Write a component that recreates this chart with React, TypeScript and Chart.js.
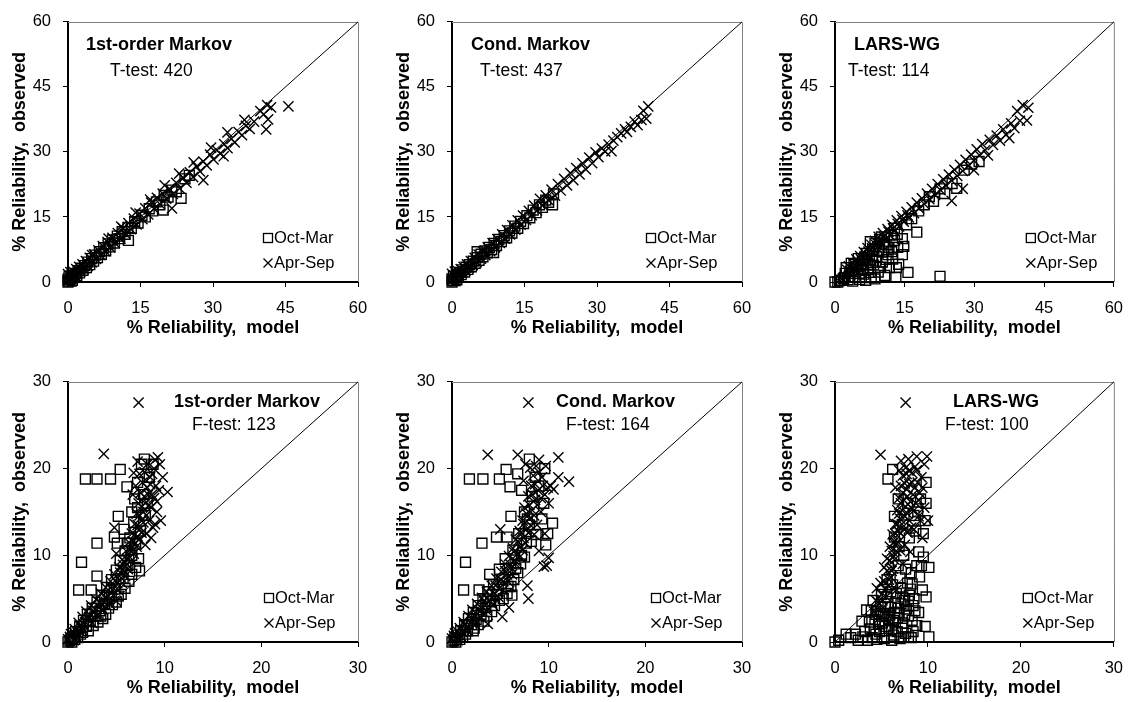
import React, { useEffect, useRef } from "react";
import { Chart, registerables } from "chart.js";

Chart.register(...registerables);

const FONT = "'Liberation Sans', Arial, sans-serif";

// ---------- tick / axis settings ----------
const topTicks = [0, 15, 30, 45, 60];
const bottomTicks = [0, 10, 20, 30];
const xTitle = "% Reliability,  model";
const yTitle = "% Reliability,  observed";
const seriesNames = ["Oct-Mar", "Apr-Sep"];
const panelTitles = ["1st-order Markov", "Cond. Markov", "LARS-WG", "1st-order Markov", "Cond. Markov", "LARS-WG"];
const testLabels = ["T-test: 420", "T-test: 437", "T-test: 114", "F-test: 123", "F-test: 164", "F-test: 100"];

// ---------- data: [model, observed] ----------
const tMarkovOctMar = [
  [0,0],[0,0.6],[0.3,0.2],[0.2,1.2],[0.6,0.8],[0.9,0.4],[0.8,1.6],[1.2,1.1],[1.5,2],[1.8,1.5],[2.1,2.6],[2.4,2.1],[2.7,3.2],[3.1,2.7],[3.4,3.8],[3.8,3.3],[4.1,4.6],[4.5,4],[4.9,5.4],[5.3,4.8],[5.7,6.2],[6.1,5.6],[6.5,7],[6.9,6.4],[7.4,7.9],[7.8,7.2],[8.3,8.8],[8.7,8.1],[9.2,9.7],[9.6,9],[10.2,10.6],[10.7,10],[11.2,11.6],[11.8,11],[12.5,9.6],[12.4,12.6],[13.1,12.4],[13.8,13.9],[14.5,13.6],[15.3,15.4],[16,15],[16.8,16.9],[17.5,16.4],[18.3,18.5],[19,17.8],[19.7,16.6],[19.9,20],[20.7,19.6],[21.5,21.2],[22.4,20.8],[23.4,19.3],[24.2,23.8],[25.1,24.6]
];
const tMarkovAprSep = [
  [0,0.3],[0,1.8],[0.4,1.4],[0.7,0.1],[0.5,2.3],[1,0.7],[1.1,2.4],[1.4,1.6],[1.7,3],[2,2],[2.3,3.5],[2.6,2.5],[3,4.1],[3.3,3],[3.7,4.8],[4.1,3.7],[4.5,5.6],[4.9,4.5],[5,6.2],[5.4,6.4],[5.8,5.3],[6.3,7.3],[6.7,6.2],[7.2,8.3],[7.7,7.1],[8.2,9.2],[8.4,10],[8.7,8],[9.2,10.2],[9.7,9],[10.3,11.3],[10.8,10],[11,12.8],[11.4,12.4],[11.9,11.1],[12.5,13.6],[13,12.2],[13.6,14.6],[14,16],[14.2,13.3],[14.8,15.8],[15.4,14.5],[16,17],[16.6,15.6],[17,19],[17.2,18.3],[17.8,16.9],[18.4,19.4],[19,18],[19.6,20.4],[20,22.3],[20.3,19.2],[21,21.5],[21.5,17],[21.7,20.3],[22.4,22.9],[23,25],[23.1,21.6],[23.8,24],[24.5,22.9],[25.2,25.3],[25.9,24.2],[26,27.6],[26.6,26.6],[27.3,25.5],[28,23.5],[28,27.8],[28.7,26.9],[29.4,29.4],[29.6,31],[30.1,28.3],[30.8,30.4],[31.5,29.6],[32.2,29],[32.3,31.8],[33,30.9],[33,34.5],[33.8,33],[34.5,32.2],[35.3,34.6],[36,33.9],[36.5,37.4],[36.8,36],[37.6,35.3],[38.5,37],[39.8,39.4],[40.5,38.7],[41.2,40.8],[41.4,37.5],[41,35.2],[42,40.3],[45.6,40.5]
];
const tCondOctMar = [
  [0,0],[0,0.7],[0.3,0.3],[0.3,1.3],[0.7,0.9],[1,0.5],[0.9,1.8],[1.3,1.3],[1.6,2.2],[1.9,1.7],[2.2,2.8],[2.6,2.3],[2.9,3.4],[3.3,2.9],[3.6,4],[4,3.5],[4.4,4.8],[4.8,4.3],[5.2,7],[5.2,5.6],[5.6,5],[6,6.4],[6.4,5.8],[6.8,7.2],[7.3,6.7],[7.7,8],[8.2,7.5],[8.6,6.8],[8.7,8.9],[9.2,8.4],[9.7,9.8],[10.2,9.3],[10.8,10.7],[11.3,10.2],[11.9,11.8],[12.4,11.3],[13,12.9],[13.6,12.4],[14.2,14],[14.8,13.5],[15.5,15.3],[16.1,14.8],[16.8,16.6],[17.4,16],[18.1,17.8],[18.7,17.2],[19.4,18.9],[20,18.4],[20.8,17.8],[21,20.3]
];
const tCondAprSep = [
  [0,0.4],[0,1.9],[0.4,1.5],[0.7,0.2],[0.6,2.4],[1.1,0.9],[1.2,2.5],[1.5,1.7],[1.8,3],[2.1,2.2],[2.4,3.5],[2.8,2.7],[3.1,4.1],[3.5,3.3],[3.9,4.8],[4.3,3.9],[4.7,5.6],[5.1,4.6],[5.5,6.3],[6,5.4],[6.4,7.1],[6.9,6.2],[7.4,8],[7.9,7.1],[8.4,9],[8.9,8],[9.4,9.9],[9.9,9],[10.4,11],[10.9,10],[11.4,12],[12,11],[12.5,13.1],[13.1,12.1],[13.6,14.2],[14.2,13.2],[14.7,15.3],[15.3,14.3],[15.9,16.4],[16.5,15.4],[17,17.6],[17.6,16.5],[18.2,19.2],[18.8,17.7],[19.4,20],[20,18.8],[20.6,21.3],[21.3,19.9],[21.9,22.6],[22.5,21.1],[23.2,23.8],[23.8,22.3],[24.5,25.1],[25.1,23.5],[25.7,26.3],[26.4,24.8],[27,27.4],[27.7,26],[28.4,28.7],[29,27.4],[29.7,29.9],[30.3,28.8],[31,30.8],[31.7,30.1],[32.4,31.7],[33,30.2],[33.4,32.6],[34.2,33.4],[35,34.3],[35.8,35.2],[36.2,34.6],[37,35.8],[37.8,37],[38.4,36.2],[39.2,37.4],[39.6,39.5],[40.2,37.7],[40.6,40.5]
];
const tLarsOctMar = [
  [0,0],[0.6,0],[1,0.3],[1.4,0.4],[1.8,0.8],[2,1],[2.2,2],[2.4,3.3],[2.8,0.5],[3,1.2],[3.2,2],[3.5,4.3],[3.6,2.8],[3.8,0.2],[4.1,4.1],[4.3,1.2],[4.5,3.5],[4.8,2.8],[5,5.4],[5.2,2],[5.3,0.6],[5.6,3.7],[5.9,4.8],[6,3],[6.2,1.8],[6.4,5.6],[6.6,0.4],[6.8,6.6],[7,4],[7.1,2.9],[7.4,5],[7.6,9.3],[7.6,2.2],[7.8,1],[8,6],[8.1,7.5],[8.3,3.9],[8.6,8.9],[8.6,0.7],[8.8,4.8],[9,5.8],[9.3,2.3],[9.4,7.2],[9.6,9.8],[9.8,3.4],[10,10.4],[10.2,4.6],[10.4,9],[10.5,7.1],[10.7,1.5],[11,8.6],[11,5.2],[11.4,6.3],[11.6,8],[11.7,3.3],[12.1,10.8],[12.2,7],[12.4,5.3],[12.8,12.4],[12.8,9.6],[13.1,1.1],[13.2,3.3],[13.4,11],[13.7,4.1],[13.5,8],[14.5,6.3],[14.5,10],[14.8,8.2],[15.7,2.2],[15.4,13.2],[16.5,14.6],[17.6,11.5],[18,16.4],[19.2,17.8],[20.3,19.7],[21.2,18.6],[22.6,1.3],[22.6,21.5],[23.6,20.4],[25.2,22.7],[26.2,21.6],[27.8,25.8],[29.4,27.2],[31,27.8]
];
const tLarsAprSep = [
  [2.2,1.4],[2.6,2.8],[3,3.6],[3.2,2.6],[3.4,1.8],[3.8,4.4],[4,3.4],[4.2,2.6],[4.6,5.2],[4.8,4.2],[5,3.4],[5.4,6],[5.6,5.2],[5.8,4.4],[6.2,6.9],[6.4,6],[6.6,5.3],[7,7.8],[7.2,7],[7.4,6.1],[7.8,8.6],[8,7.8],[8.2,7],[8.6,9.5],[8.8,8.6],[9,7.9],[9.4,10.4],[9.6,9.6],[9.8,8.8],[10.3,11.3],[10.5,10.4],[10.8,9.8],[11.3,12.2],[11.5,11.6],[11.8,10.8],[12.3,13.2],[12.5,12.4],[12.8,11.8],[13.3,14.2],[13.5,13.4],[13.8,12.8],[14.3,15.2],[14.5,14.4],[14.8,13.9],[15.4,16.2],[15.6,15.4],[15.9,14.9],[16.5,17.2],[17,15.9],[17.6,18.3],[18.1,17],[18.7,19.3],[19.2,18],[19.8,20.4],[20.3,19.1],[20.9,21.5],[21.5,20.1],[22.1,22.6],[22.7,21.2],[23.3,23.7],[23.9,22.3],[24.5,24.8],[25.1,18.7],[25.1,23.4],[25.7,25.9],[26.3,24.5],[26.9,27],[27.5,21.5],[27.5,25.6],[28.1,28.2],[28.7,26.8],[29.3,29.4],[29.9,25.8],[29.9,28],[30.5,30.6],[31.1,29.2],[31.7,31.8],[32.3,30.4],[32.9,29.2],[33.3,32.8],[34,31.6],[34.8,33.8],[35.5,32.6],[36.2,35.2],[36.8,34],[37.5,33.2],[37.9,36.6],[38.6,35.5],[39.2,39.4],[39.8,37.2],[40.4,40.8],[41.3,37.3],[41.6,40.2]
];
const fMarkovOctMar = [
  [0,0],[0.4,0],[0.3,0.4],[0.2,0.2],[0.7,0.3],[0.6,0.7],[0.8,1.2],[1,0.5],[1.1,6],[1.3,0.9],[1.4,9.2],[1.2,1.8],[1.5,1.1],[1.6,2.5],[1.8,18.8],[1.9,1.8],[2,3.2],[2.1,1.3],[2.3,2.4],[2.4,6],[2.5,3.9],[2.6,1.9],[2.8,3],[3,18.8],[3,11.4],[3,7.6],[3,4.6],[3.1,2.3],[3.3,3.6],[3.4,3],[3.6,2.7],[3.5,5.4],[3.8,4.4],[3.9,3.2],[4,6.3],[4.2,3.9],[4.3,5.2],[4.4,18.8],[4.5,7.2],[4.6,4.3],[4.8,12.1],[4.8,6.1],[5,8.3],[5,4.6],[5.1,11.4],[5.2,14.5],[5.2,5.3],[5.4,19.9],[5.4,9.4],[5.5,5.5],[5.7,7.3],[5.8,13],[5.9,10.5],[5.9,6.2],[6.1,17.9],[6.2,8.8],[6.2,11.4],[6.3,7],[6.4,12],[6.6,10],[6.6,7.8],[6.6,15],[6.8,13.8],[6.9,16.5],[7,11.3],[7,8.6],[7.2,15.5],[7.2,18.4],[7.3,9.6],[7.4,8.2],[7.5,12.8],[7.6,20.5],[7.8,17],[7.9,21.1],[8,14.6],[8.2,16],[8.4,19],[8.8,20.5]
];
const fMarkovAprSep = [
  [0,0.3],[0.2,0.6],[0.3,0.9],[0.5,1.2],[0.6,0.2],[0.7,1.5],[0.9,0.6],[1,1],[1.1,2.2],[1.2,1.9],[1.4,1.6],[1.5,2.9],[1.6,1.2],[1.8,2.3],[1.9,3.5],[2,2.7],[2.2,2.9],[2.4,4.2],[2.5,2.2],[2.6,3.6],[2.7,3.4],[2.9,4.9],[3,3],[3.2,4],[3.3,4.6],[3.4,5.6],[3.6,3.8],[3.7,4.6],[3.7,21.7],[3.9,6.3],[3.9,5.2],[4.2,5.3],[4.3,4.4],[4.4,7],[4.5,6.4],[4.6,6],[4.7,5.4],[4.8,13.2],[4.8,7.8],[4.9,7.1],[5,10.2],[5,4.7],[5.1,6.8],[5.2,6],[5.3,8.6],[5.4,8],[5.5,7.4],[5.6,9.5],[5.6,6.8],[5.7,8.9],[5.8,8.2],[5.9,7.6],[6,10.5],[6.1,9],[6.1,9.6],[6.2,8.4],[6.3,11.5],[6.4,9.8],[6.4,10.6],[6.5,9.3],[6.6,12.5],[6.7,10.6],[6.7,11.6],[6.7,17],[6.8,19.5],[6.8,10.2],[6.9,13.6],[6.9,12.4],[7,11.4],[7,18],[7.1,14.8],[7.1,11],[7.2,20.8],[7.2,12.2],[7.2,13.5],[7.3,27.6],[7.3,16],[7.3,11.8],[7.4,13],[7.4,14.6],[7.4,19.4],[7.5,17.2],[7.6,14],[7.6,12.6],[7.6,15.6],[7.7,18.4],[7.8,15],[7.8,13.8],[7.9,19.6],[7.9,16.8],[8,16],[8,11.2],[8.1,12.5],[8.1,14.6],[8.2,20.5],[8.2,17.8],[8.3,17],[8.4,14],[8.4,15.8],[8.5,18.2],[8.5,19],[8.6,15.5],[8.6,12],[8.7,19.4],[8.7,17],[8.8,13.2],[8.9,16.6],[8.9,20],[9,21],[9,13.6],[9.1,18],[9.2,15],[9.2,16.2],[9.3,21.3],[9.4,17.5],[9.5,20.5],[9.6,14],[9.8,19],[10.3,17.3]
];
const fCondOctMar = [
  [0,0],[0.4,0],[0.2,0.2],[0.3,0.5],[0.8,0.3],[0.6,0.8],[0.9,1.3],[1.1,0.6],[1.2,6],[1.4,0.9],[1.4,9.2],[1.3,2],[1.6,1.3],[1.7,2.7],[1.8,18.8],[2,2],[2.2,1.3],[2.2,3.4],[2.3,1.6],[2.5,2.6],[2.7,2],[2.8,6],[2.7,4.2],[3,3.2],[3.1,11.4],[3.2,18.8],[3.2,5],[3.3,2.4],[3.5,4],[3.6,3],[3.7,5.8],[3.9,7.8],[4,4.7],[4.1,3.5],[4.3,6.6],[4.4,4.2],[4.6,12.1],[4.6,5.5],[4.9,8.4],[4.9,4.8],[4.9,18.8],[5.2,7.2],[5.3,5],[5.5,9.6],[5.6,19.9],[5.7,12.1],[5.7,5.6],[5.8,6.4],[6,17.9],[6.1,14.5],[6.1,6.4],[6.2,5.4],[6.3,10.6],[6.4,7.2],[6.6,8.5],[6.8,19.4],[6.8,8],[6.9,12.5],[7.1,9],[7.2,10],[7.2,17.5],[7.5,15],[7.5,9.8],[7.7,11.4],[7.8,14.2],[8,21.1],[8,13.5],[8.2,11.6],[8.3,16.8],[8.6,19],[8.7,12.4],[9,18],[9.3,14.2],[9.5,16],[9.7,11.2],[9.9,12.5],[10.4,13.7],[9.6,20]
];
const fCondAprSep = [
  [0,0.4],[0.2,0.7],[0.3,1],[0.5,1.3],[0.6,0.2],[0.8,1.6],[0.9,0.7],[1.1,1.1],[1.2,2.3],[1.3,2],[1.5,1.7],[1.6,1.3],[1.7,3],[2,2.3],[2,2.8],[2.1,3.7],[2.4,3],[2.4,2],[2.6,4.4],[2.7,3.7],[2.9,3.6],[3,2.8],[3.1,5.1],[3.3,4.7],[3.4,4.2],[3.6,5.8],[3.6,3.6],[3.7,2.1],[3.7,21.6],[3.9,4.8],[3.9,5.4],[4.1,6.5],[4.2,4.3],[4.4,5.5],[4.5,6.5],[4.6,7.3],[4.8,5.2],[4.9,6.2],[5,13],[5,7.2],[5.1,8.1],[5.2,2.9],[5.3,7],[5.3,6],[5.5,9],[5.5,8.2],[5.7,7.8],[5.8,7],[5.9,4],[5.9,9.9],[6,9],[6.1,8.6],[6.2,7.8],[6.3,10.8],[6.4,10.4],[6.5,9.4],[6.6,11.8],[6.6,9],[6.8,21.6],[6.8,10.2],[6.8,11.6],[7,12.8],[7,9.8],[7.1,11],[7.1,12.6],[7.3,14],[7.3,10.6],[7.4,12],[7.4,13.6],[7.4,18.6],[7.5,15.5],[7.6,20.5],[7.6,11.4],[7.7,13],[7.7,14.8],[7.8,6.5],[7.9,27.6],[7.9,5],[7.9,16.8],[7.9,12.6],[8,14.2],[8,15.8],[8.1,20.1],[8.2,18],[8.2,13.4],[8.3,15.2],[8.3,17],[8.4,19.2],[8.5,12.4],[8.5,14.6],[8.6,16.4],[8.6,18.2],[8.7,20.3],[8.8,13.5],[8.8,15.8],[8.9,17.5],[9,10.5],[9,21],[9,19.6],[9.2,15],[9.2,16.6],[9.3,19],[9.4,18],[9.5,8.7],[9.6,17],[9.6,12.5],[9.7,20.3],[9.8,8.8],[9.9,17.8],[10,9.7],[10,16],[10.2,18],[10.5,17.6],[11,19],[11,21.3],[12.1,18.5]
];
const fLarsOctMar = [
  [0,0],[0.4,0.2],[1.2,0.9],[1.7,0.5],[2.2,0.9],[2.5,0.2],[2.9,2.4],[3,0.6],[3.2,1.2],[3.4,3.7],[3.5,0.2],[3.7,2.3],[3.8,1.5],[3.9,3.6],[4,0.5],[4.1,4.8],[4.2,1.4],[4.3,2.6],[4.4,3.2],[4.4,0.9],[4.5,0.3],[4.6,3.5],[4.7,2.1],[4.8,1.2],[4.9,4.1],[5,5.5],[5,3],[5.1,2.2],[5.2,3.3],[5.3,0.4],[5.4,4],[5.4,1.8],[5.5,1.3],[5.6,7.2],[5.6,5.2],[5.7,18.8],[5.7,4.4],[5.8,1.6],[5.8,2.6],[5.9,3.1],[6,5.8],[6,4],[6.1,0.2],[6.1,1.5],[6.2,19.9],[6.2,6.6],[6.3,2.5],[6.3,0.8],[6.4,14.5],[6.4,12.1],[6.4,3.4],[6.5,4.5],[6.5,2.2],[6.6,5.6],[6.7,1.2],[6.7,2.8],[6.8,8.8],[6.8,3.9],[6.8,16.5],[6.9,3.4],[6.9,11],[7,0.4],[7,7.4],[7.1,6.2],[7.1,4.4],[7.2,1.6],[7.3,2.2],[7.3,5.2],[7.3,13.5],[7.4,10],[7.4,0.6],[7.5,4.8],[7.5,3.1],[7.6,1],[7.6,8.4],[7.7,3.8],[7.8,6.8],[7.8,16],[7.9,3],[7.9,0.6],[7.9,4.7],[8,12],[8,5.4],[8.1,6.1],[8.2,0.5],[8.2,8],[8.3,2.5],[8.3,6.7],[8.4,1.2],[8.4,4.2],[8.5,5],[8.5,14.6],[8.6,3.6],[8.7,12.8],[8.8,1.9],[8.8,8.8],[8.9,15],[9,10.4],[9,3.4],[9.1,7.5],[9.2,16.5],[9.3,8.8],[9.4,6],[9.5,12.5],[9.5,9.8],[9.7,14],[9.7,1.8],[9.8,16],[9.8,18.4],[9.8,5.2],[10.1,8.6],[10.1,0.6]
];
const fLarsAprSep = [
  [4.2,3.5],[4.4,4.8],[4.5,6.2],[4.6,4.6],[4.8,2.8],[4.9,21.6],[4.9,6.8],[5,5.5],[5.1,4.8],[5.2,4],[5.3,7],[5.3,8.6],[5.4,6.1],[5.5,5.2],[5.6,8.2],[5.6,9.6],[5.7,6.5],[5.8,3.2],[5.8,7.2],[5.9,9.4],[5.9,11],[6,7.5],[6.1,10.5],[6.1,8.2],[6.2,8.5],[6.2,12.4],[6.3,11.5],[6.3,9.9],[6.4,9.5],[6.5,12.5],[6.5,13.6],[6.5,17.8],[6.6,6],[6.6,10.5],[6.6,11.4],[6.7,13.6],[6.7,15.2],[6.8,11.5],[6.8,12.8],[6.9,14.8],[6.9,19.8],[6.9,16.6],[7,12.6],[7,14.2],[7,10.6],[7.1,20.9],[7.1,16],[7.1,18],[7.2,13.6],[7.2,15.2],[7.3,17.2],[7.3,9],[7.3,19.2],[7.4,14.6],[7.4,16.4],[7.5,18.3],[7.5,11.2],[7.5,13],[7.6,27.6],[7.6,15.6],[7.6,20.1],[7.7,19.4],[7.7,17.6],[7.8,12.6],[7.8,16.8],[7.8,14.8],[7.9,21.1],[8,14],[8,18.2],[8,19.8],[8.1,10.4],[8.1,16.2],[8.2,15.5],[8.2,13.2],[8.3,19.5],[8.3,18.4],[8.4,17],[8.5,13],[8.5,15.2],[8.6,20.2],[8.6,17.8],[8.7,16],[8.8,21.4],[8.8,19.8],[8.9,18.4],[9,14.5],[9,16.4],[9.1,17.2],[9.2,14],[9.3,19],[9.4,12],[9.4,17.8],[9.6,15.5],[9.6,20.5],[9.9,21.4],[10,14]
];

const panelData = [
  [tMarkovOctMar, tMarkovAprSep],
  [tCondOctMar, tCondAprSep],
  [tLarsOctMar, tLarsAprSep],
  [fMarkovOctMar, fMarkovAprSep],
  [fCondOctMar, fCondAprSep],
  [fLarsOctMar, fLarsAprSep],
];

// ---------- layout (positions only) ----------
const layouts = [
  { left: 0, top: 0, w: 380, padR: 22, ticks: topTicks, title: [18, 23], test: [42, 49], legDx: -90 },
  { left: 384, top: 0, w: 380, padR: 22, ticks: topTicks, title: [19, 23], test: [28, 49], legDx: -91 },
  { left: 767, top: 0, w: 368, padR: 10, ticks: topTicks, title: [19, 23], test: [13, 49], legDx: -83 },
  { left: 0, top: 360, w: 380, padR: 22, ticks: bottomTicks, title: [106, 20], test: [124, 43], legDx: -89 },
  { left: 384, top: 360, w: 380, padR: 22, ticks: bottomTicks, title: [104, 20], test: [114, 43], legDx: -86 },
  { left: 767, top: 360, w: 368, padR: 10, ticks: bottomTicks, title: [118, 20], test: [110, 43], legDx: -86 },
];
const H = 345;

const decorPlugin = {
  id: "panelDecor",
  beforeDatasetsDraw(chart: any) {
    const { ctx, chartArea: a } = chart;
    ctx.save();
    ctx.strokeStyle = "#808080";
    ctx.lineWidth = 1;
    ctx.beginPath();
    ctx.moveTo(a.left, Math.round(a.top) + 0.5);
    ctx.lineTo(a.right + 0.5, Math.round(a.top) + 0.5);
    ctx.lineTo(Math.round(a.right) + 0.5, a.bottom);
    ctx.stroke();
    ctx.restore();
  },
  afterDraw(chart: any, _a: any, opts: any) {
    const { ctx, chartArea: a } = chart;
    ctx.save();
    ctx.fillStyle = "#000";
    ctx.textBaseline = "middle";
    ctx.textAlign = "left";
    ctx.font = `bold 18px ${FONT}`;
    ctx.fillText(opts.title, a.left + opts.titlePos[0], a.top + opts.titlePos[1]);
    ctx.font = `17.5px ${FONT}`;
    ctx.fillText(opts.test, a.left + opts.testPos[0], a.top + opts.testPos[1]);
    // legend
    const cx = a.right + opts.legDx;
    const y1 = a.bottom - 44;
    const y2 = a.bottom - 19;
    ctx.strokeStyle = "#000";
    ctx.lineWidth = 1.3;
    ctx.strokeRect(cx - 4.5, y1 - 4.5, 9, 9);
    ctx.beginPath();
    ctx.moveTo(cx - 4.5, y2 - 4.5);
    ctx.lineTo(cx + 4.5, y2 + 4.5);
    ctx.moveTo(cx + 4.5, y2 - 4.5);
    ctx.lineTo(cx - 4.5, y2 + 4.5);
    ctx.stroke();
    ctx.font = `16.5px ${FONT}`;
    ctx.fillText(opts.names[0], cx + 6, y1);
    ctx.fillText(opts.names[1], cx + 6, y2);
    ctx.restore();
  },
};

function Panel({ index }: { index: number }) {
  const ref = useRef<HTMLCanvasElement>(null);
  const L = layouts[index];
  useEffect(() => {
    if (!ref.current) return;
    const max = L.ticks[L.ticks.length - 1];
    const step = L.ticks[1] - L.ticks[0];
    const [oct, apr] = panelData[index];
    const toPts = (arr: number[][]) => arr.map(([x, y]) => ({ x, y }));
    const chart = new Chart(ref.current, {
      type: "scatter",
      data: {
        datasets: [
          {
            type: "line",
            label: "1:1",
            data: [{ x: 0, y: 0 }, { x: max, y: max }],
            borderColor: "#000",
            borderWidth: 1,
            pointRadius: 0,
            clip: false,
          } as any,
          {
            label: seriesNames[0],
            data: toPts(oct),
            pointStyle: "rect",
            pointRadius: 7,
            borderColor: "#000",
            backgroundColor: "rgba(0,0,0,0)",
            borderWidth: 1.4,
            clip: false,
          } as any,
          {
            label: seriesNames[1],
            data: toPts(apr),
            pointStyle: "crossRot",
            pointRadius: 7.2,
            borderColor: "#000",
            backgroundColor: "rgba(0,0,0,0)",
            borderWidth: 1.4,
            clip: false,
          } as any,
        ],
      },
      options: {
        responsive: false,
        animation: false,
        devicePixelRatio: 1,
        layout: { padding: { left: 0, top: 13, right: L.padR, bottom: 0 } },
        plugins: {
          legend: { display: false },
          tooltip: { enabled: false },
          panelDecor: {
            title: panelTitles[index],
            test: testLabels[index],
            titlePos: L.title,
            testPos: L.test,
            legDx: L.legDx,
            names: seriesNames,
          },
        } as any,
        scales: {
          x: {
            type: "linear",
            min: 0,
            max,
            ticks: { stepSize: step, color: "#000", font: { family: FONT, size: 16.5 }, padding: 12 },
            grid: { drawOnChartArea: false, drawTicks: true, tickLength: 5, color: "#000" },
            border: { display: true, color: "#000", width: 2 },
            title: {
              display: true,
              text: xTitle,
              color: "#000",
              font: { family: FONT, size: 18, weight: "bold" },
              padding: { top: 0, bottom: 6 },
            },
            afterFit: (s: any) => {
              s.height = 63;
            },
          },
          y: {
            type: "linear",
            min: 0,
            max,
            ticks: { stepSize: step, color: "#000", font: { family: FONT, size: 16.5 }, padding: 12 },
            grid: { drawOnChartArea: false, drawTicks: true, tickLength: 5, color: "#000" },
            border: { display: true, color: "#000", width: 2 },
            title: {
              display: true,
              text: yTitle,
              color: "#000",
              font: { family: FONT, size: 18, weight: "bold" },
              padding: { top: 9, bottom: 0 },
            },
            afterFit: (s: any) => {
              s.width = 68;
            },
          },
        },
      } as any,
      plugins: [decorPlugin as any],
    });
    return () => chart.destroy();
  }, [index]);
  return (
    <div style={{ position: "absolute", left: L.left, top: L.top, width: L.w, height: H }}>
      <canvas ref={ref} width={L.w} height={H} style={{ width: L.w, height: H, display: "block" }} />
    </div>
  );
}

export default function App() {
  return (
    <div
      style={{
        position: "absolute",
        left: 0,
        top: 0,
        width: 1137,
        height: 702,
        overflow: "hidden",
        background: "#fff",
      }}
    >
      {layouts.map((_, i) => (
        <Panel key={i} index={i} />
      ))}
    </div>
  );
}
